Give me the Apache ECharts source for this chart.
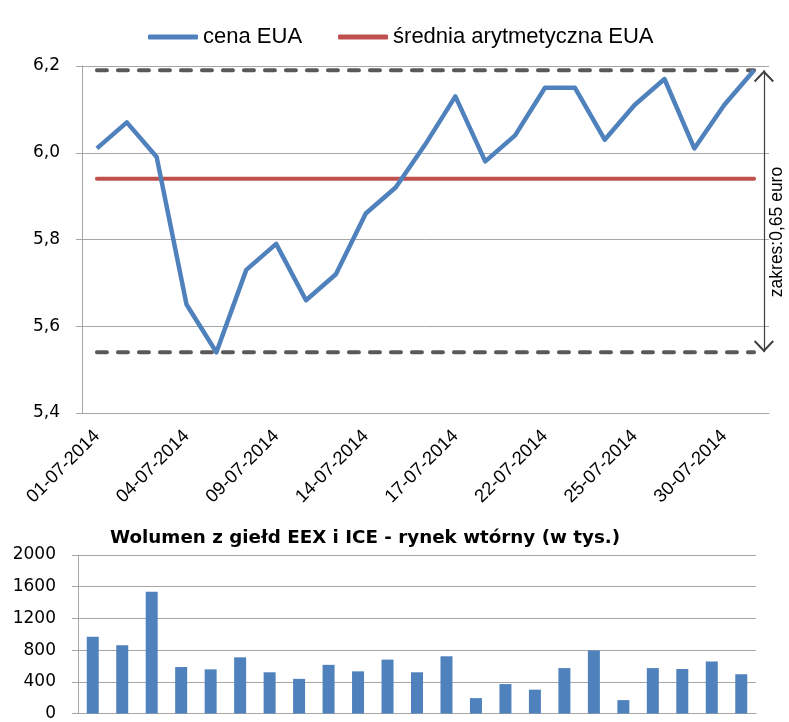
<!DOCTYPE html>
<html>
<head>
<meta charset="utf-8">
<script src="https://cdn.jsdelivr.net/npm/echarts@6/dist/echarts.min.js"></script>
<style>
  html, body { margin: 0; padding: 0; background: #fff; }
  #chart { width: 789px; height: 722px; }
</style>
</head>
<body>
<div id="chart"></div>
<script>
// sesje lipiec 2014
const dates = ['01-07-2014', '02-07-2014', '03-07-2014', '04-07-2014', '07-07-2014', '08-07-2014',
  '09-07-2014', '10-07-2014', '11-07-2014', '14-07-2014', '15-07-2014', '16-07-2014', '17-07-2014',
  '18-07-2014', '21-07-2014', '22-07-2014', '23-07-2014', '24-07-2014', '25-07-2014', '28-07-2014',
  '29-07-2014', '30-07-2014', '31-07-2014'];
const cenaEUA = [6.01, 6.07, 5.99, 5.65, 5.54, 5.73, 5.79, 5.66, 5.72, 5.86, 5.92, 6.02, 6.13,
  5.98, 6.04, 6.15, 6.15, 6.03, 6.11, 6.17, 6.01, 6.11, 6.19];
const sredniaEUA = 5.94;
const maxEUA = 6.19;
const minEUA = 5.54;
const wolumen = [970, 860, 1535, 586, 557, 709, 520, 437, 614, 532, 680, 520, 722,
  194, 371, 301, 573, 796, 169, 573, 561, 656, 495];
const priceTicks = [5.4, 6.2, 0.2];   // min, max, krok
const volTicks = [0, 2000, 400];
const zakresPos = 22.83;              // polozenie strzalki na osi pomocniczej (0..23)

const blue = '#4F81BD';
const red = '#C0504D';
const gridGray = '#A6A6A6';

let myChart = echarts.init(document.getElementById('chart'));

// grot strzalki (otwarty), czubek w srodku symbolu
const chevron = 'path://M10,0 L20,10.5 L18.6,12 L10,3 L1.4,12 L0,10.5 Z M10,-12 L10,-12 Z';

let option = {
  animation: false,
  title: {
    text: 'Wolumen z giełd EEX i ICE - rynek wtórny (w tys.)',
    left: 110,
    top: 529,
    padding: 0,
    textStyle: {
      fontFamily: 'DejaVu Sans',
      fontWeight: 'bold',
      fontSize: 18.3,
      color: '#000',
    },
  },
  legend: {
    left: 148,
    top: 26,
    padding: 0,
    itemWidth: 50,
    itemHeight: 5,
    itemGap: 36,
    icon: 'roundRect',
    data: ['cena EUA', 'średnia arytmetyczna EUA'],
    textStyle: {
      fontFamily: 'Liberation Sans',
      fontSize: 22,
      color: '#000',
    },
  },
  grid: [
    { left: 82, top: 66, width: 687, height: 347 },
    { left: 78, top: 555, width: 678, height: 162 },
  ],
  xAxis: [
    {
      type: 'category',
      gridIndex: 0,
      data: dates,
      boundaryGap: true,
      axisLine: { lineStyle: { color: gridGray } },
      axisTick: { interval: 1, length: 6, lineStyle: { color: gridGray } },
      axisLabel: {
        interval: 2,
        rotate: 45,
        margin: 20,
        fontFamily: 'Liberation Sans',
        fontSize: 18.5,
        color: '#000',
      },
    },
    {
      // os pomocnicza dla adnotacji
      type: 'value',
      gridIndex: 0,
      min: 0,
      max: dates.length,
      show: false,
    },
    {
      type: 'category',
      gridIndex: 1,
      data: dates,
      boundaryGap: true,
      axisLine: { lineStyle: { color: gridGray } },
      axisTick: { interval: 1, length: 6, lineStyle: { color: gridGray } },
      axisLabel: { show: false },
    },
  ],
  yAxis: [
    {
      type: 'value',
      gridIndex: 0,
      min: priceTicks[0],
      max: priceTicks[1],
      interval: priceTicks[2],
      axisLine: { show: true, lineStyle: { color: gridGray } },
      axisTick: { show: true, length: 6, lineStyle: { color: gridGray } },
      splitLine: { lineStyle: { color: gridGray } },
      axisLabel: {
        margin: 22,
        fontFamily: 'DejaVu Sans',
        fontSize: 17,
        color: '#000',
        formatter: (v) => v.toFixed(1).replace('.', ','),
      },
    },
    {
      type: 'value',
      gridIndex: 1,
      min: volTicks[0],
      max: volTicks[1],
      interval: volTicks[2],
      axisLine: { show: true, lineStyle: { color: gridGray } },
      axisTick: { show: true, length: 6, lineStyle: { color: gridGray } },
      splitLine: { lineStyle: { color: gridGray } },
      axisLabel: {
        margin: 22,
        fontFamily: 'DejaVu Sans',
        fontSize: 17,
        color: '#000',
        formatter: (v) => String(v),
      },
    },
  ],
  series: [
    {
      name: 'max',
      type: 'line',
      xAxisIndex: 0,
      yAxisIndex: 0,
      data: dates.map(() => maxEUA),
      showSymbol: false,
      lineStyle: { color: '#595959', width: 4, type: [10, 11], cap: 'round' },
    },
    {
      name: 'min',
      type: 'line',
      xAxisIndex: 0,
      yAxisIndex: 0,
      data: dates.map(() => minEUA),
      showSymbol: false,
      lineStyle: { color: '#595959', width: 4, type: [10, 11], cap: 'round' },
    },
    {
      name: 'średnia arytmetyczna EUA',
      type: 'line',
      xAxisIndex: 0,
      yAxisIndex: 0,
      data: dates.map(() => sredniaEUA),
      showSymbol: false,
      itemStyle: { color: red },
      lineStyle: { color: red, width: 4, cap: 'round' },
    },
    {
      name: 'cena EUA',
      type: 'line',
      xAxisIndex: 0,
      yAxisIndex: 0,
      data: cenaEUA,
      showSymbol: false,
      itemStyle: { color: blue },
      lineStyle: { color: blue, width: 4.5, join: 'round' },
    },
    {
      name: 'zakres',
      type: 'line',
      xAxisIndex: 1,
      yAxisIndex: 0,
      data: [],
      markLine: {
        silent: true,
        symbol: [chevron, chevron],
        symbolSize: [20, 24],
        lineStyle: { color: '#404040', width: 1.2, type: 'solid' },
        label: { show: false },
        data: [[{ coord: [zakresPos, maxEUA] }, { coord: [zakresPos, minEUA] }]],
      },
    },
    {
      name: 'wolumen',
      type: 'bar',
      xAxisIndex: 2,
      yAxisIndex: 1,
      data: wolumen,
      barWidth: 12,
      itemStyle: { color: blue },
    },
  ],
  graphic: [
    {
      type: 'text',
      x: 777,
      y: 232,
      rotation: Math.PI / 2,
      style: {
        text: 'zakres:0,65 euro',
        font: '17.5px "Liberation Sans"',
        fill: '#000',
        textAlign: 'center',
        textVerticalAlign: 'middle',
      },
    },
  ],
};

myChart.setOption(option);
</script>
</body>
</html>
